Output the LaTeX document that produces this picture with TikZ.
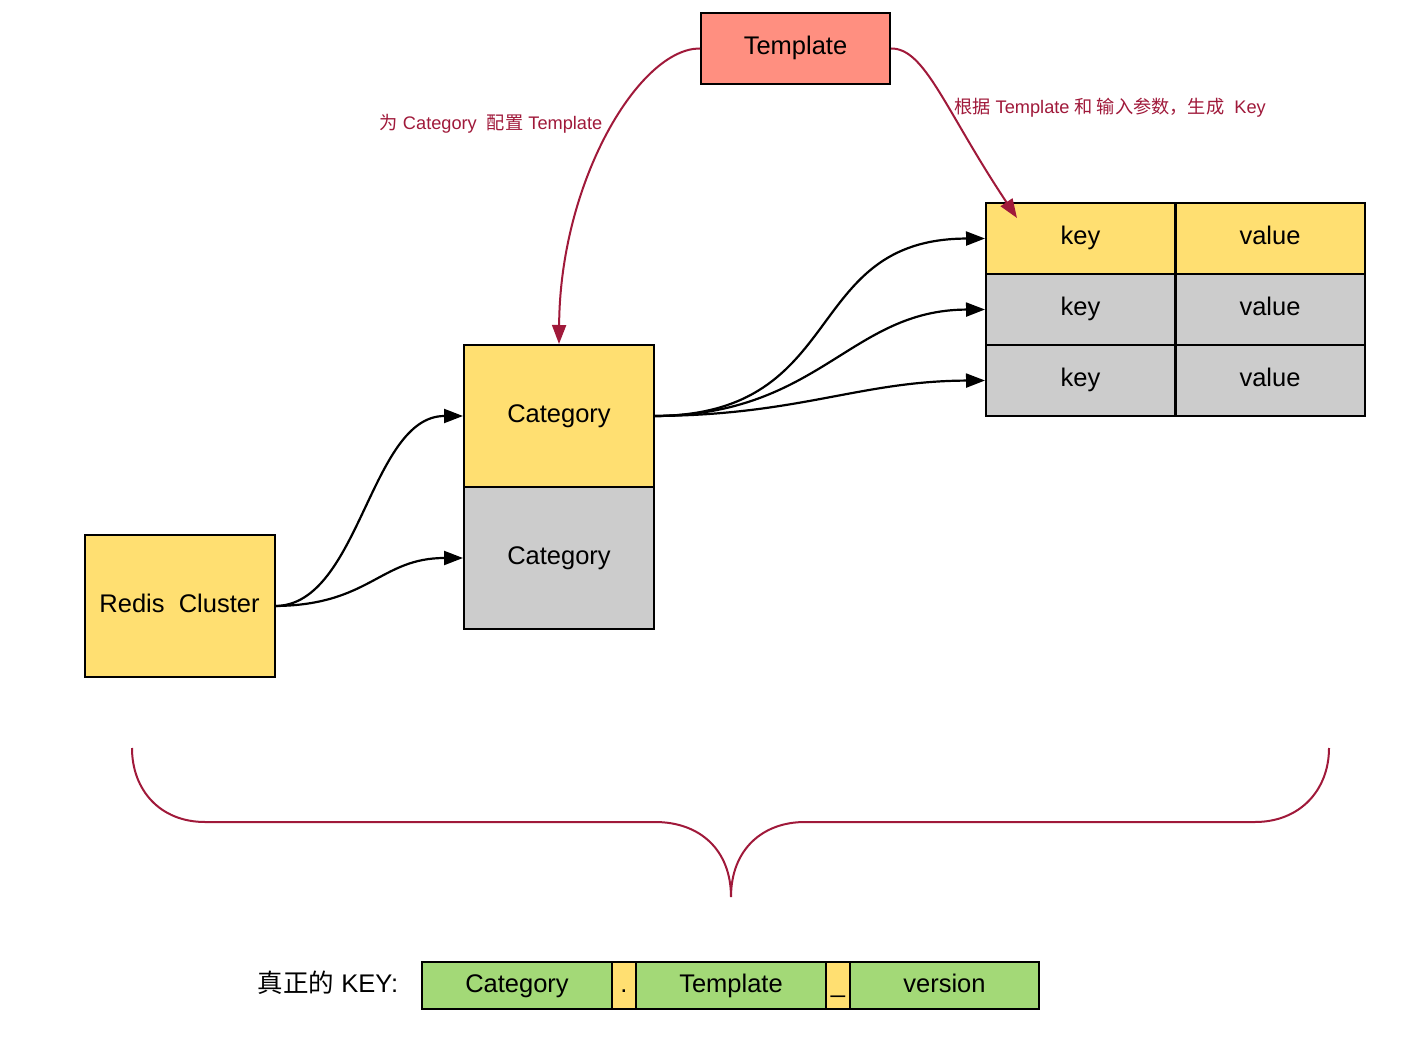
\documentclass[tikz,border=0pt]{standalone}
\usepackage{fontspec}
\setmainfont{Liberation Sans}
\newfontfamily\cjk{Noto Sans CJK SC}
\usetikzlibrary{arrows.meta}
\definecolor{cyellow}{HTML}{FFDF71}
\definecolor{cgray}{HTML}{CCCCCC}
\definecolor{csalmon}{HTML}{FF8F80}
\definecolor{cgreen}{HTML}{A3D977}
\definecolor{cred}{HTML}{A0193A}
\tikzset{
  cell/.style={draw=black, line width=2pt, inner sep=0pt, font=\fontsize{25.5}{30}\selectfont, text=black, text height=18pt, text depth=5pt},
  bigcell/.style={cell, minimum width=190pt, minimum height=142pt},
  kvcell/.style={cell, minimum width=189pt, minimum height=71pt},
  keycell/.style={cell, minimum height=47pt},
  blackarrow/.style={line width=2.2pt, -{Triangle[length=19pt,width=14pt]}},
  redarrow/.style={draw=cred, line width=2pt, -{Triangle[length=19pt,width=14pt]}},
  redlabel/.style={text=cred, font=\fontsize{18.2}{21}\selectfont},
}
\begin{document}
\begin{tikzpicture}[x=1pt,y=-1pt]
\useasboundingbox[fill=white] (0,0) rectangle (1416,1056);

% Template
\node[cell, fill=csalmon, minimum width=189pt, minimum height=71pt] (tpl) at (795.5,48.5) {Template};

% Category stack
\node[bigcell, fill=cyellow] (cat1) at (559,416) {Category};
\node[bigcell, fill=cgray] (cat2) at (559,558) {Category};

% Redis Cluster
\node[bigcell, fill=cyellow] (redis) at (179.5,606) {Redis\ \ Cluster};

% key-value table
\node[kvcell, fill=cyellow] (k1) at (1080.5,238.5) {key};
\node[kvcell, fill=cyellow] (v1) at (1270,238.5) {value};
\node[kvcell, fill=cgray] (k2) at (1080.5,309.5) {key};
\node[kvcell, fill=cgray] (v2) at (1270,309.5) {value};
\node[kvcell, fill=cgray] (k3) at (1080.5,380.5) {key};
\node[kvcell, fill=cgray] (v3) at (1270,380.5) {value};

% arrows Category -> keys
\draw[blackarrow] (cat1.east) .. controls (850,415) and (800,239) .. (k1.west);
\draw[blackarrow] (cat1.east) .. controls (820,415) and (850,310) .. (k2.west);
\draw[blackarrow] (cat1.east) .. controls (800,415) and (860,381) .. (k3.west);

% arrows Redis -> Category
\draw[blackarrow] (redis.east) .. controls (360,605) and (370,416) .. (cat1.west);
\draw[blackarrow] (redis.east) .. controls (370,605) and (380,558) .. (cat2.west);

% red curves from Template
\coordinate (tgt) at (1017,218);
\draw[redarrow] (tpl.west) .. controls (640,48) and (560,180) .. (cat1.north);
\draw[redarrow] (tpl.east) .. controls (925,48) and (945,110) .. (tgt);

\node[redlabel] (lab1) at (491,124) {{\cjk 为} Category\ \ {\cjk 配置} Template};
\node[redlabel] (lab2) at (1110,108) {{\cjk 根据} Template {\cjk 和 输入参数，生成}\ \ Key};

% brace
\draw[cred, line width=2pt] (132,748) .. controls (132,790) and (160,822) .. (205,822)
  -- (655,822) .. controls (700,822) and (731,850) .. (731,897)
  .. controls (731,850) and (762,822) .. (805,822)
  -- (1255,822) .. controls (1300,822) and (1329,790) .. (1329,748);

% real key
\node[font=\fontsize{25.5}{30}\selectfont] (real) at (328,983) {{\cjk 真正的} KEY:};
\node[keycell, fill=cgreen, minimum width=190pt] (b1) at (517,985.5) {Category};
\node[keycell, fill=cyellow, minimum width=24pt] (b2) at (624,985.5) {.};
\node[keycell, fill=cgreen, minimum width=190pt] (b3) at (731,985.5) {Template};
\node[keycell, fill=cyellow, minimum width=24pt] (b4) at (838,985.5) {\_};
\node[keycell, fill=cgreen, minimum width=189pt] (b5) at (944.5,985.5) {version};
\end{tikzpicture}
\end{document}
